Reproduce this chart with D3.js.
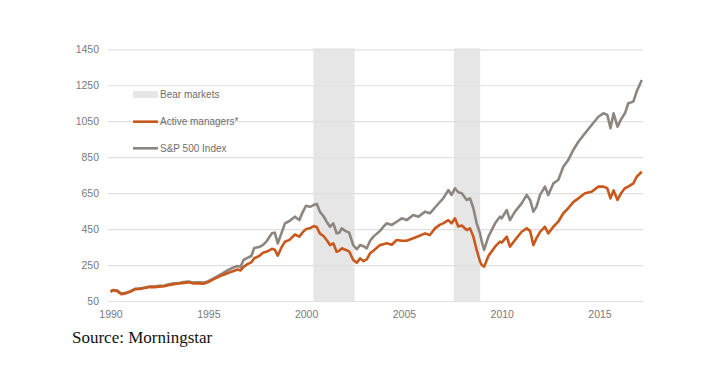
<!DOCTYPE html>
<html><head><meta charset="utf-8">
<script src="https://cdn.jsdelivr.net/npm/d3@7"></script>
<style>
html,body{margin:0;padding:0;background:#fff;}
svg{display:block;}
</style></head>
<body>
<script>
const dates = [1990.00,1990.15,1990.35,1990.55,1990.75,1991.00,1991.25,1991.50,1991.75,1992.00,1992.25,1992.50,1992.75,1993.00,1993.25,1993.50,1993.75,1994.00,1994.25,1994.50,1994.75,1995.00,1995.25,1995.50,1995.75,1996.00,1996.25,1996.50,1996.65,1996.80,1997.00,1997.20,1997.35,1997.60,1997.80,1998.00,1998.25,1998.40,1998.55,1998.75,1998.92,1999.15,1999.43,1999.65,1999.85,2000.00,2000.20,2000.40,2000.55,2000.70,2000.90,2001.05,2001.22,2001.39,2001.56,2001.70,2001.82,2002.00,2002.20,2002.41,2002.59,2002.76,2002.93,2003.10,2003.27,2003.44,2003.78,2003.95,2004.12,2004.38,2004.63,2004.89,2005.14,2005.48,2005.74,2006.08,2006.33,2006.59,2006.85,2007.01,2007.27,2007.44,2007.61,2007.78,2007.96,2008.21,2008.38,2008.55,2008.72,2008.89,2008.98,2009.10,2009.32,2009.66,2009.91,2010.00,2010.26,2010.42,2010.68,2011.02,2011.28,2011.45,2011.62,2011.78,2011.96,2012.21,2012.38,2012.64,2012.89,2013.15,2013.40,2013.66,2013.92,2014.26,2014.60,2014.94,2015.20,2015.40,2015.56,2015.72,2015.92,2016.10,2016.30,2016.47,2016.73,2016.90,2017.16];
const sp500 = [103,111,108,92,95,103,118,120,125,131,130,134,136,143,148,150,155,158,152,154,152,160,175,190,205,222,235,245,240,278,290,300,345,350,362,385,427,430,370,430,482,495,519,500,550,580,574,585,590,547,520,491,463,482,427,430,454,440,430,361,338,361,355,343,385,408,440,463,482,473,491,510,500,528,519,547,538,570,602,621,667,640,677,655,649,612,621,566,482,427,380,334,408,482,519,510,556,500,547,593,640,612,547,575,640,686,640,704,723,797,834,890,936,983,1029,1075,1094,1085,1011,1094,1020,1060,1094,1150,1159,1215,1279];
const active = [103,110,105,88,92,101,115,117,122,128,127,130,132,139,144,147,151,154,148,148,146,155,170,183,195,206,216,225,220,240,255,265,288,300,318,325,340,335,302,350,380,390,420,408,435,450,455,467,460,426,410,389,361,371,324,330,343,335,326,278,263,287,272,282,315,330,361,366,371,363,389,385,385,399,410,426,417,454,475,482,500,482,510,465,470,445,454,408,334,270,250,241,300,352,380,375,408,352,389,435,454,440,361,400,435,463,426,463,491,538,566,600,621,649,658,686,686,677,621,665,612,649,677,686,704,741,769];
const yTicks = [50,250,450,650,850,1050,1250,1450];
const xTicks = [1990,1995,2000,2005,2010,2015];
const bearStart = [2000.37, 2007.55];
const bearEnd = [2002.48, 2008.9];
const legendLabels = ["Bear markets","Active managers*","S&P 500 Index"];

const W = 708, H = 367;
const svg = d3.select("body").append("svg").attr("width", W).attr("height", H);
const x = d3.scaleLinear().domain([1990, 2017.3]).range([110.5, 644.5]);
const y = d3.scaleLinear().domain([50, 1450]).range([301, 49.3]);
const gridL = 108, gridR = 643;
const font = "'Liberation Sans', Arial, sans-serif";

// bear market shading
svg.append("g").selectAll("rect").data(bearStart).join("rect")
  .attr("x", (d) => x(d))
  .attr("width", (d, i) => x(bearEnd[i]) - x(d))
  .attr("y", y(1450) - 1)
  .attr("height", y(50) - y(1450) + 1)
  .attr("fill", "#e6e6e6");

// y axis + gridlines
const yAxis = svg.append("g").attr("transform", `translate(${gridL},0)`)
  .call(d3.axisLeft(y).tickValues(yTicks).tickSize(-(gridR - gridL)).tickPadding(9).tickFormat(d3.format("d")));
yAxis.select(".domain").remove();
yAxis.selectAll(".tick line").attr("stroke", "#e0e0e0").attr("stroke-width", 1.2);
yAxis.selectAll(".tick text").attr("fill", "#7a7a7a").attr("font-size", "10.5px").attr("font-family", font);

// x axis
const xAxis = svg.append("g").attr("transform", `translate(0,${y(50)})`)
  .call(d3.axisBottom(x).tickValues(xTicks).tickSize(0).tickPadding(10).tickFormat(d3.format("d")));
xAxis.select(".domain").remove();
xAxis.selectAll(".tick text").attr("fill", "#7a7a7a").attr("font-size", "10.5px").attr("font-family", font);

// lines
const lineS = d3.line().x((d, i) => x(dates[i])).y((d) => y(d));
svg.append("path").datum(sp500).attr("d", lineS)
  .attr("fill", "none").attr("stroke", "#8e867e").attr("stroke-width", 2.6).attr("stroke-linejoin", "round");
svg.append("path").datum(active).attr("d", lineS)
  .attr("fill", "none").attr("stroke", "#c9581d").attr("stroke-width", 2.6).attr("stroke-linejoin", "round");

// legend
const lg = svg.append("g");
lg.append("rect").attr("x", 133).attr("y", 91).attr("width", 25).attr("height", 7).attr("fill", "#e6e6e6");
lg.append("line").attr("x1", 133).attr("x2", 158).attr("y1", 121.7).attr("y2", 121.7).attr("stroke", "#c9581d").attr("stroke-width", 2.6);
lg.append("line").attr("x1", 133).attr("x2", 158).attr("y1", 148.3).attr("y2", 148.3).attr("stroke", "#8e867e").attr("stroke-width", 2.6);
lg.selectAll("text").data(legendLabels).join("text")
  .attr("x", 160).attr("y", (d, i) => [98, 125, 152][i])
  .attr("font-family", font).attr("font-size", "10px").attr("fill", "#6e6e6e")
  .text((d) => d);

// source
svg.append("text").attr("x", 72).attr("y", 343)
  .attr("font-family", "'Liberation Serif', serif").attr("font-size", "17px").attr("fill", "#111")
  .text("Source: Morningstar");
</script>
</body></html>
